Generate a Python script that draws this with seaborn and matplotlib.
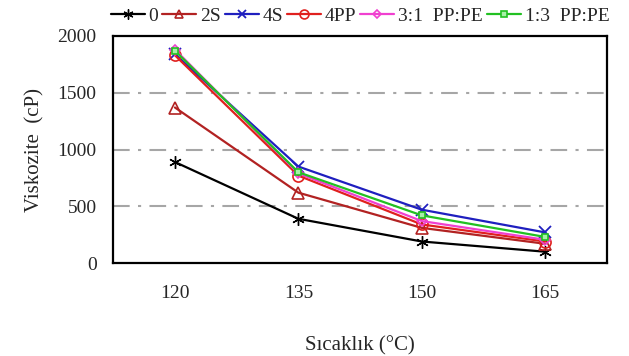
import matplotlib
matplotlib.use("Agg")
import matplotlib.pyplot as plt
import seaborn as sns
import pandas as pd

temps = ["120", "135", "150", "165"]
series_names = ["0", "2S", "4S", "4PP", "3:1  PP:PE", "1:3  PP:PE"]
v0 = [890, 390, 190, 100]
v2s = [1370, 620, 310, 170]
v4s = [1840, 850, 470, 270]
v4pp = [1830, 770, 340, 190]
v31 = [1880, 790, 370, 205]
v13 = [1870, 800, 420, 230]
values = [v0, v2s, v4s, v4pp, v31, v13]
y_ticks = [0, 500, 1000, 1500, 2000]

styles = [
    dict(color="#000000", marker=(6, 2, 0), mfc="#000000", ms=9, mew=1.0),
    dict(color="#B22222", marker="^", mfc="none", ms=8, mew=1.2),
    dict(color="#1F1FBF", marker="x", mfc="#1F1FBF", ms=8, mew=1.3),
    dict(color="#E0201E", marker="o", mfc="none", ms=8, mew=1.2),
    dict(color="#F040D0", marker="D", mfc="none", ms=5, mew=1.2),
    dict(color="#22C022", marker="s", mfc="#A8F0A8", ms=5, mew=1.2),
]

sns.set_theme(style="white")
plt.rcParams["font.family"] = ["Liberation Serif", "DejaVu Serif"]

fig = plt.figure(figsize=(6.29, 3.56), dpi=100)
ax = fig.add_axes([0.18, 0.261, 0.785, 0.638])

for name, vals, st in zip(series_names, values, styles):
    df = pd.DataFrame({"T": temps, "V": vals})
    sns.lineplot(data=df, x="T", y="V", ax=ax, color=st["color"], marker=st["marker"],
                 markerfacecolor=st["mfc"], markeredgecolor=st["color"],
                 markersize=st["ms"], markeredgewidth=st["mew"], linewidth=1.6,
                 label=name, sort=False)

ax.set_xlim(-0.5, 3.5)
ax.set_ylim(0, 2000)
ax.set_yticks(y_ticks)
for yv in y_ticks[1:-1]:
    ax.axhline(yv, color="#A6A6A6", linestyle=(0, (8, 4, 1.5, 4)), linewidth=1.5, zorder=0)

ax.tick_params(axis="x", labelsize=14, length=0, pad=16)
ax.tick_params(axis="y", labelsize=14, length=0, pad=12)
ax.set_xlabel("Sıcaklık (°C)", fontsize=15, labelpad=24)
ax.set_ylabel("Viskozite  (cP)", fontsize=15, labelpad=9)
for sp in ax.spines.values():
    sp.set_color("black")
    sp.set_linewidth(1.6)

leg = ax.legend(loc="lower center", bbox_to_anchor=(0.5, 1.0), ncol=6, frameon=False,
                fontsize=14, handlelength=1.75, handletextpad=0.2, columnspacing=0.2,
                borderaxespad=0.15, markerscale=0.8)

fig.savefig("out.png", dpi=100)
